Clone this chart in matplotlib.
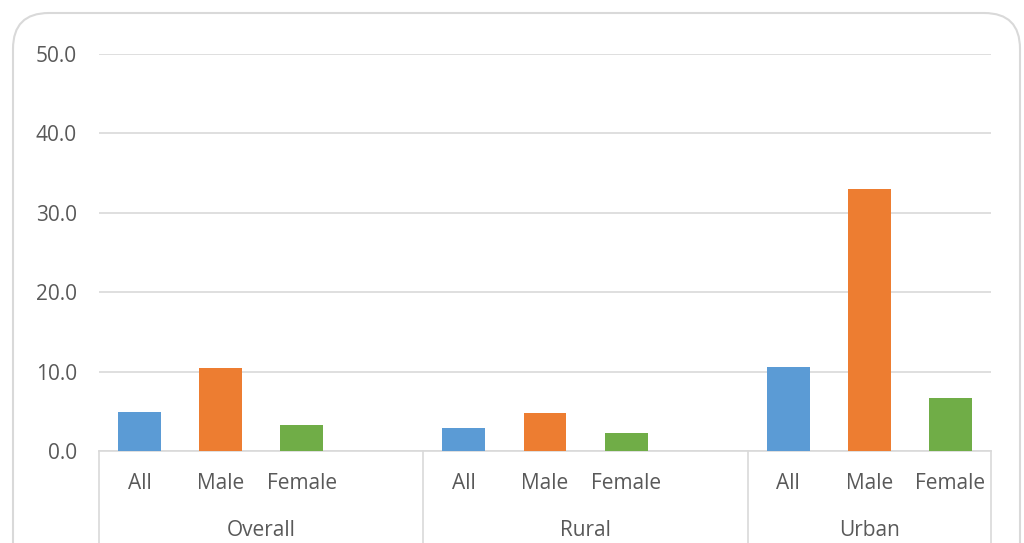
import matplotlib
matplotlib.use('Agg')
import matplotlib.pyplot as plt
from matplotlib.patches import FancyBboxPatch
import matplotlib.transforms as mtransforms

# data
groups = ['Overall', 'Rural', 'Urban']
categories = ['All', 'Male', 'Female']
overall_vals = [4.9, 10.5, 3.3]
rural_vals = [2.9, 4.8, 2.3]
urban_vals = [10.6, 33.0, 6.7]
cat_colors = ['#5B9BD5', '#ED7D31', '#70AD47']
y_ticks = [0, 10, 20, 30, 40, 50]

TEXT = '#595959'
GRID = '#D9D9D9'

plt.rcParams['font.family'] = ['Open Sans', 'DejaVu Sans']

fig = plt.figure(figsize=(10.24, 5.43), dpi=100)
ax = fig.add_axes([99 / 1024, (543 - 451) / 543, (991 - 99) / 1024, 397 / 543])

# slots: 4 per group for Overall and Rural (last one empty), 3 for Urban
group_vals = [overall_vals, rural_vals, urban_vals]
group_slots = [4, 4, 3]
start = 0
bounds = [start]
for vals, nslot in zip(group_vals, group_slots):
    xs = [start + i for i in range(len(vals))]
    ax.bar(xs, vals, width=0.53, color=cat_colors, zorder=3)
    start += nslot
    bounds.append(start)

ax.set_xlim(-0.5, start - 0.5)
ax.set_ylim(0, 50)
ax.set_yticks(y_ticks)
ax.set_yticklabels([f'{v:.1f}' for v in y_ticks])
ax.tick_params(axis='y', length=0, pad=16, labelsize=15, labelcolor=TEXT)
ax.set_xticks([])
ax.grid(axis='y', color=GRID, linewidth=1.2, zorder=0)
for s in ['left', 'right', 'top']:
    ax.spines[s].set_visible(False)
ax.spines['bottom'].set_color(GRID)
ax.spines['bottom'].set_linewidth(1.2)

# two-level category axis below the plot
trans = mtransforms.blended_transform_factory(ax.transData, ax.transAxes)
for b in bounds:
    ax.plot([b - 0.5, b - 0.5], [0, -0.3], transform=trans, color=GRID,
            linewidth=1.2, clip_on=False)
for g, name in enumerate(groups):
    lo = bounds[g]
    for i, c in enumerate(categories):
        ax.text(lo + i, -0.083, c, transform=trans, ha='center', va='center',
                fontsize=15, color=TEXT)
    mid = (bounds[g] - 0.5 + bounds[g + 1] - 0.5) / 2
    ax.text(mid, -0.199, name, transform=trans, ha='center', va='center',
            fontsize=15, color=TEXT)

# rounded chart border, open at the bottom edge of the image
frame = FancyBboxPatch((13 / 1024, -0.1), (1020 - 13) / 1024, (543 - 13) / 543 + 0.1,
                       boxstyle='round,pad=0,rounding_size=0.035',
                       transform=fig.transFigure, facecolor='none',
                       edgecolor=GRID, linewidth=1.5, mutation_aspect=1024 / 543)
fig.patches.append(frame)

fig.savefig('out.png', dpi=100)
